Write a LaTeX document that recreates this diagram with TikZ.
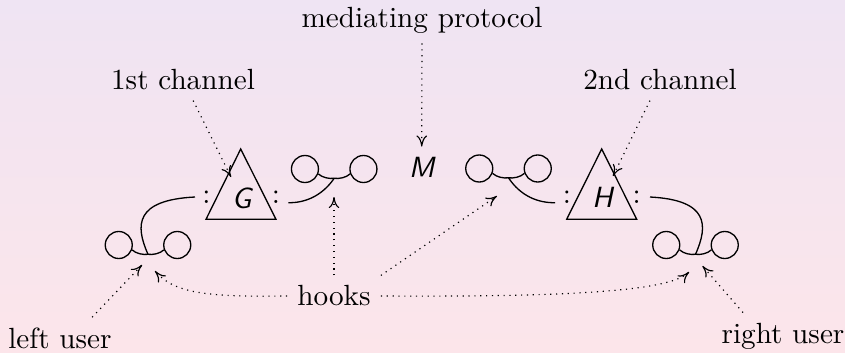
\documentclass[tikz,border=0pt]{standalone}
\usetikzlibrary{arrows.meta}
\definecolor{bgtop}{RGB}{239,228,243}
\definecolor{bgbot}{RGB}{252,229,234}

% two rings joined by a small cup; the cup's lowest point is the coordinate #1
\newcommand\hookpair[3]{%
  \node[ring] (#1a) at ({#2-29.25},#3) {};
  \node[ring] (#1b) at ({#2+29.25},#3) {};
  \coordinate (#1) at (#2,{#3+9.3});
  \draw[wire] (#1a.-20) .. controls ({#2-12},{#3+8.6}) and ({#2-5},{#3+10}) .. (#1)
              .. controls ({#2+5},{#3+10}) and ({#2+12},{#3+8.6}) .. (#1b.200);
}

\begin{document}
\begin{tikzpicture}[x=0.3425pt,y=-0.3425pt,
  ring/.style={draw,circle,minimum size=9.25pt,inner sep=0pt,line width=0.45pt},
  wire/.style={line width=0.45pt},
  lab/.style={line width=0.4pt,dash pattern=on 0.4pt off 1.6pt,
    -{Computer Modern Rightarrow[length=3.8pt,width=3.6pt]}},
  sym/.style={font=\sffamily\itshape},
  txt/.style={}]

% background
\shade[top color=bgtop,bottom color=bgbot] (0,0) rectangle (845,352);
\useasboundingbox (0,0) rectangle (845,352);

% channels
\draw[wire] (240.7,149) -- (206,219.3) -- (276,219.3) -- cycle;
\draw[wire] (601.7,149) -- (566.7,219.3) -- (636.7,219.3) -- cycle;
\node[sym] (G) at (241.5,198) {G};
\node[sym] (H) at (602.5,197) {H};
\node[sym] (M) at (421.7,167) {M};

% ports
\node (gl) at (206.5,197) {:};
\node (gr) at (276,197) {:};
\node (hl) at (567,197) {:};
\node (hr) at (636.7,197) {:};

% hooks
\hookpair{lh}{148}{245}
\hookpair{ma}{334.2}{169}
\hookpair{mb}{508.5}{168.5}
\hookpair{rh}{695.5}{245}

\coordinate (lhend) at (195,197);
\coordinate (maend) at (288.3,202.7);
\coordinate (mbend) at (555,202.7);
\coordinate (rhend) at (650,197);
\draw[wire] (lh) .. controls (135,225) and (135,200) .. (lhend);
\draw[wire] (ma) .. controls (322,196) and (305,203) .. (maend);
\draw[wire] (mb) .. controls (520.5,196) and (538,203) .. (mbend);
\draw[wire] (rh) .. controls (708.5,225) and (708.5,200) .. (rhend);

% labels
\node[txt] (mp) at (422,20) {mediating protocol};
\node[txt] (c1) at (183,80) {1st channel};
\node[txt] (c2) at (660,80) {2nd channel};
\node[txt] (hk) at (334,296) {hooks};
\node[txt] (lu) at (60,338) {left user};
\node[txt] (ru) at (783,336) {right user};

% arrow targets
\coordinate (gtip) at (231,177);
\coordinate (htip) at (613,176);
\coordinate (matip) at (334,197);
\coordinate (mbtip) at (497,196);
\coordinate (lhtipa) at (155,271);
\coordinate (rhtipa) at (689,272);
\coordinate (lhtipb) at (142,265);
\coordinate (rhtipb) at (702.5,266);

% pointers
\draw[lab] (mp) -- (M);
\draw[lab] (c1) -- (gtip);
\draw[lab] (c2) -- (htip);
\draw[lab] (hk) -- (matip);
\draw[lab] (hk.north east) -- (mbtip);
\draw[lab] (hk.west) .. controls (210,297) and (175,294) .. (lhtipa);
\draw[lab] (hk.east) .. controls (560,297) and (668,292) .. (rhtipa);
\draw[lab] ([xshift=11pt]lu.north) -- (lhtipb);
\draw[lab] ([xshift=-13.7pt]ru.north) -- (rhtipb);
\end{tikzpicture}
\end{document}
